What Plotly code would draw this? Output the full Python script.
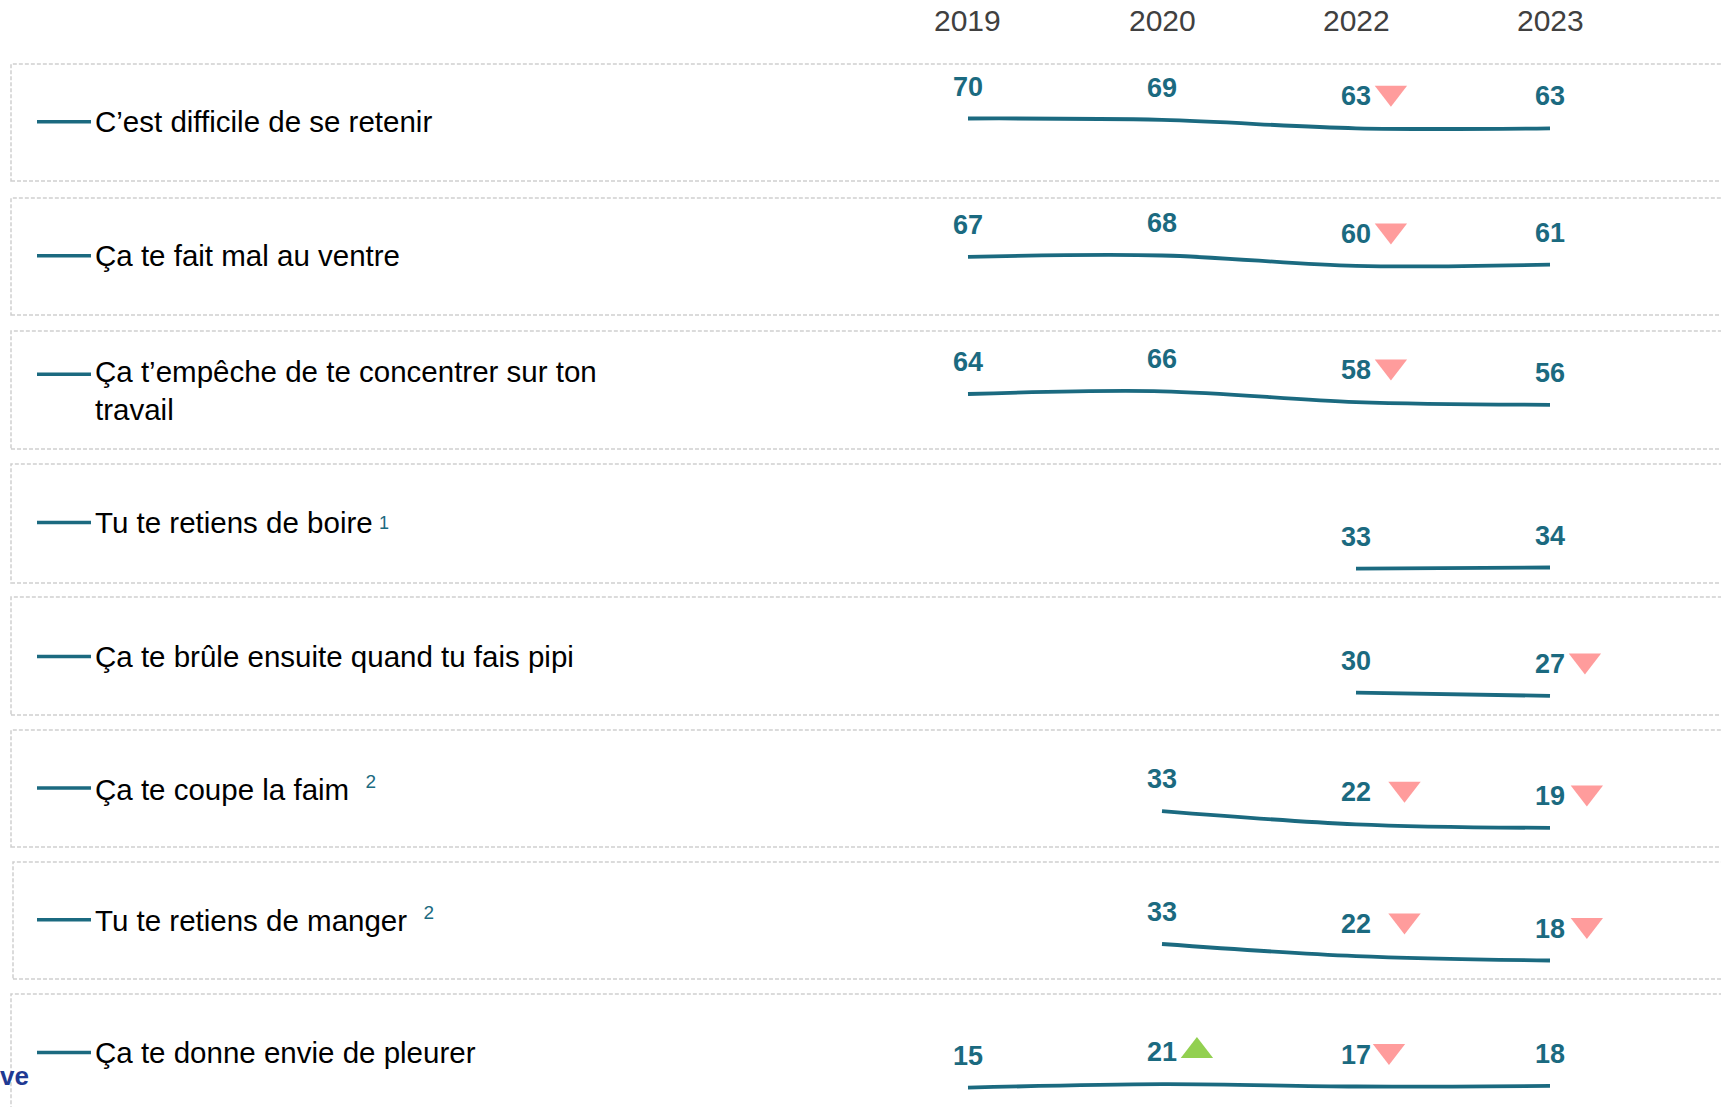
import plotly.graph_objects as go

# ---------------- data ----------------
years = ["2019", "2020", "2022", "2023"]
items = [
    "C’est difficile de se retenir",
    "Ça te fait mal au ventre",
    "Ça t’empêche de te concentrer sur ton<br>travail",
    "Tu te retiens de boire",
    "Ça te brûle ensuite quand tu fais pipi",
    "Ça te coupe la faim",
    "Tu te retiens de manger",
    "Ça te donne envie de pleurer",
]
notes = [None, None, None, "1", None, "2", "2", None]

vals_retenir = [70, 69, 63, 63]
vals_ventre = [67, 68, 60, 61]
vals_concentrer = [64, 66, 58, 56]
vals_boire = [None, None, 33, 34]
vals_brule = [None, None, 30, 27]
vals_faim = [None, 33, 22, 19]
vals_manger = [None, 33, 22, 18]
vals_pleurer = [15, 21, 17, 18]
values = [vals_retenir, vals_ventre, vals_concentrer, vals_boire,
          vals_brule, vals_faim, vals_manger, vals_pleurer]

trend_retenir = [None, None, "down", None]
trend_ventre = [None, None, "down", None]
trend_concentrer = [None, None, "down", None]
trend_boire = [None, None, None, None]
trend_brule = [None, None, None, "down"]
trend_faim = [None, None, "down", "down"]
trend_manger = [None, None, "down", "down"]
trend_pleurer = [None, "up", "down", None]
trends = [trend_retenir, trend_ventre, trend_concentrer, trend_boire,
          trend_brule, trend_faim, trend_manger, trend_pleurer]

# ---------------- style / layout (pixels) ----------------
W, H = 1721, 1107
TEAL = "#1B6A80"
FONT = "Liberation Sans, Arial, sans-serif"
box_top = [64, 198, 331, 464, 597, 730, 862, 994]
box_bot = [181, 315, 449, 583, 715, 847, 979, 1125]
box_left = [11, 11, 11, 11, 11, 11, 13, 11]
anchor_px = [118.5, 256.8, 394, 568.6, 692.6, 811.1, 944, 1087.7]
px_per_unit = [1.4, 1.3, 1.35, 1.1, 1.1, 1.2, 1.1, 0.6]
label_y = [121.8, 255.7, 391, 522.5, 656.4, 788, 919.8, 1052.6]
line_y = [121.8, 255.7, 374.3, 522.5, 656.4, 788, 919.8, 1052.6]
x_dom = [871 / W, 1647 / W]
label_shift = 32
tri_dx = [[0.18] * 4] * 5 + [[0.18, 0.18, 0.25, 0.19]] * 2 + [[0.18, 0.18, 0.17, 0.18]]
note_x = {3: 377}

def py(p):
    return 1 - p / H

fig = go.Figure()
layout = dict(width=W, height=H, margin=dict(l=0, r=0, t=0, b=0),
              paper_bgcolor="white", plot_bgcolor="rgba(0,0,0,0)",
              showlegend=False, font=dict(family=FONT))
shapes, annotations = [], []
xpos = list(range(len(years)))

for i, (vals, trs) in enumerate(zip(values, trends)):
    n = i + 1
    xa = "x" if n == 1 else f"x{n}"
    ya = "y" if n == 1 else f"y{n}"
    top = max(box_top[i], 0)
    bot = min(box_bot[i], H)
    first = next(v for v in vals if v is not None)
    s = px_per_unit[i]
    y_hi = first + (anchor_px[i] - top) / s
    y_lo = first - (bot - anchor_px[i]) / s
    layout[f"xaxis{n}"] = dict(domain=x_dom, range=[-0.5, 3.5], visible=False,
                               anchor=ya, fixedrange=True)
    layout[f"yaxis{n}"] = dict(domain=[py(bot), py(top)], range=[y_lo, y_hi],
                               visible=False, anchor=xa, fixedrange=True)
    fig.add_trace(go.Scatter(x=xpos, y=vals, mode="lines", xaxis=xa, yaxis=ya,
                             line=dict(color=TEAL, width=3.8, shape="spline", smoothing=1),
                             connectgaps=False, hoverinfo="skip"))
    for j, v in enumerate(vals):
        if v is None:
            continue
        annotations.append(dict(x=xpos[j], y=v, xref=xa, yref=ya, yshift=label_shift,
                                text=f"<b>{v}</b>", showarrow=False,
                                font=dict(size=27, color=TEAL, family=FONT),
                                xanchor="center", yanchor="middle"))
    # trend triangles
    for j, t in enumerate(trs):
        if t is None:
            continue
        v = vals[j]
        if t == "down":
            off = (label_shift + 3.5) / s
            sym, col = "triangle-down", "#FF9C9C"
        else:
            off = (label_shift + 1) / s
            sym, col = "triangle-up", "#92D050"
        fig.add_trace(go.Scatter(x=[xpos[j] + tri_dx[i][j]], y=[v + off], mode="markers",
                                 xaxis=xa, yaxis=ya, hoverinfo="skip",
                                 marker=dict(symbol=sym, size=28, color=col,
                                             line=dict(width=0))))
    # dashed box
    shapes.append(dict(type="rect", xref="paper", yref="paper",
                       x0=box_left[i] / W, x1=1.02, y0=py(box_bot[i]), y1=py(box_top[i]),
                       line=dict(color="#CFCFCF", width=1.5, dash="4px,2px"),
                       fillcolor="rgba(0,0,0,0)", layer="below"))
    # short legend line
    shapes.append(dict(type="line", xref="paper", yref="paper",
                       x0=37 / W, x1=91 / W, y0=py(line_y[i]), y1=py(line_y[i]),
                       line=dict(color=TEAL, width=3.5)))
    txt = items[i]
    if notes[i] and i in note_x:
        annotations.append(dict(x=note_x[i] / W, y=py(label_y[i]), xref="paper", yref="paper",
                                text=notes[i], showarrow=False, xanchor="left", yanchor="middle",
                                font=dict(size=18, color=TEAL, family=FONT)))
    elif notes[i]:
        txt += f"  <sup><span style='font-size:19px;color:{TEAL}'>{notes[i]}</span></sup>"
    annotations.append(dict(x=93 / W, y=py(label_y[i]), xref="paper", yref="paper",
                            text=txt, showarrow=False, xanchor="left", yanchor="middle",
                            align="left", font=dict(size=29.5, color="#000000", family=FONT)))

# year header
for j, yr in enumerate(years):
    annotations.append(dict(x=xpos[j], y=py(21), xref="x", yref="paper", text=yr,
                            showarrow=False, xanchor="center", yanchor="middle",
                            font=dict(size=30, color="#404040", family=FONT)))

# cut-off text at bottom left
annotations.append(dict(x=-2 / W, y=py(1076), xref="paper", yref="paper", text="<b>ve</b>",
                        showarrow=False, xanchor="left", yanchor="middle",
                        font=dict(size=26, color="#1F3A93", family=FONT)))

layout["shapes"] = shapes
layout["annotations"] = annotations
fig.update_layout(**layout)
fig.write_html("out.html", config={"displayModeBar": False},
               post_script="document.body.style.margin='0';document.body.style.overflow='hidden';")
